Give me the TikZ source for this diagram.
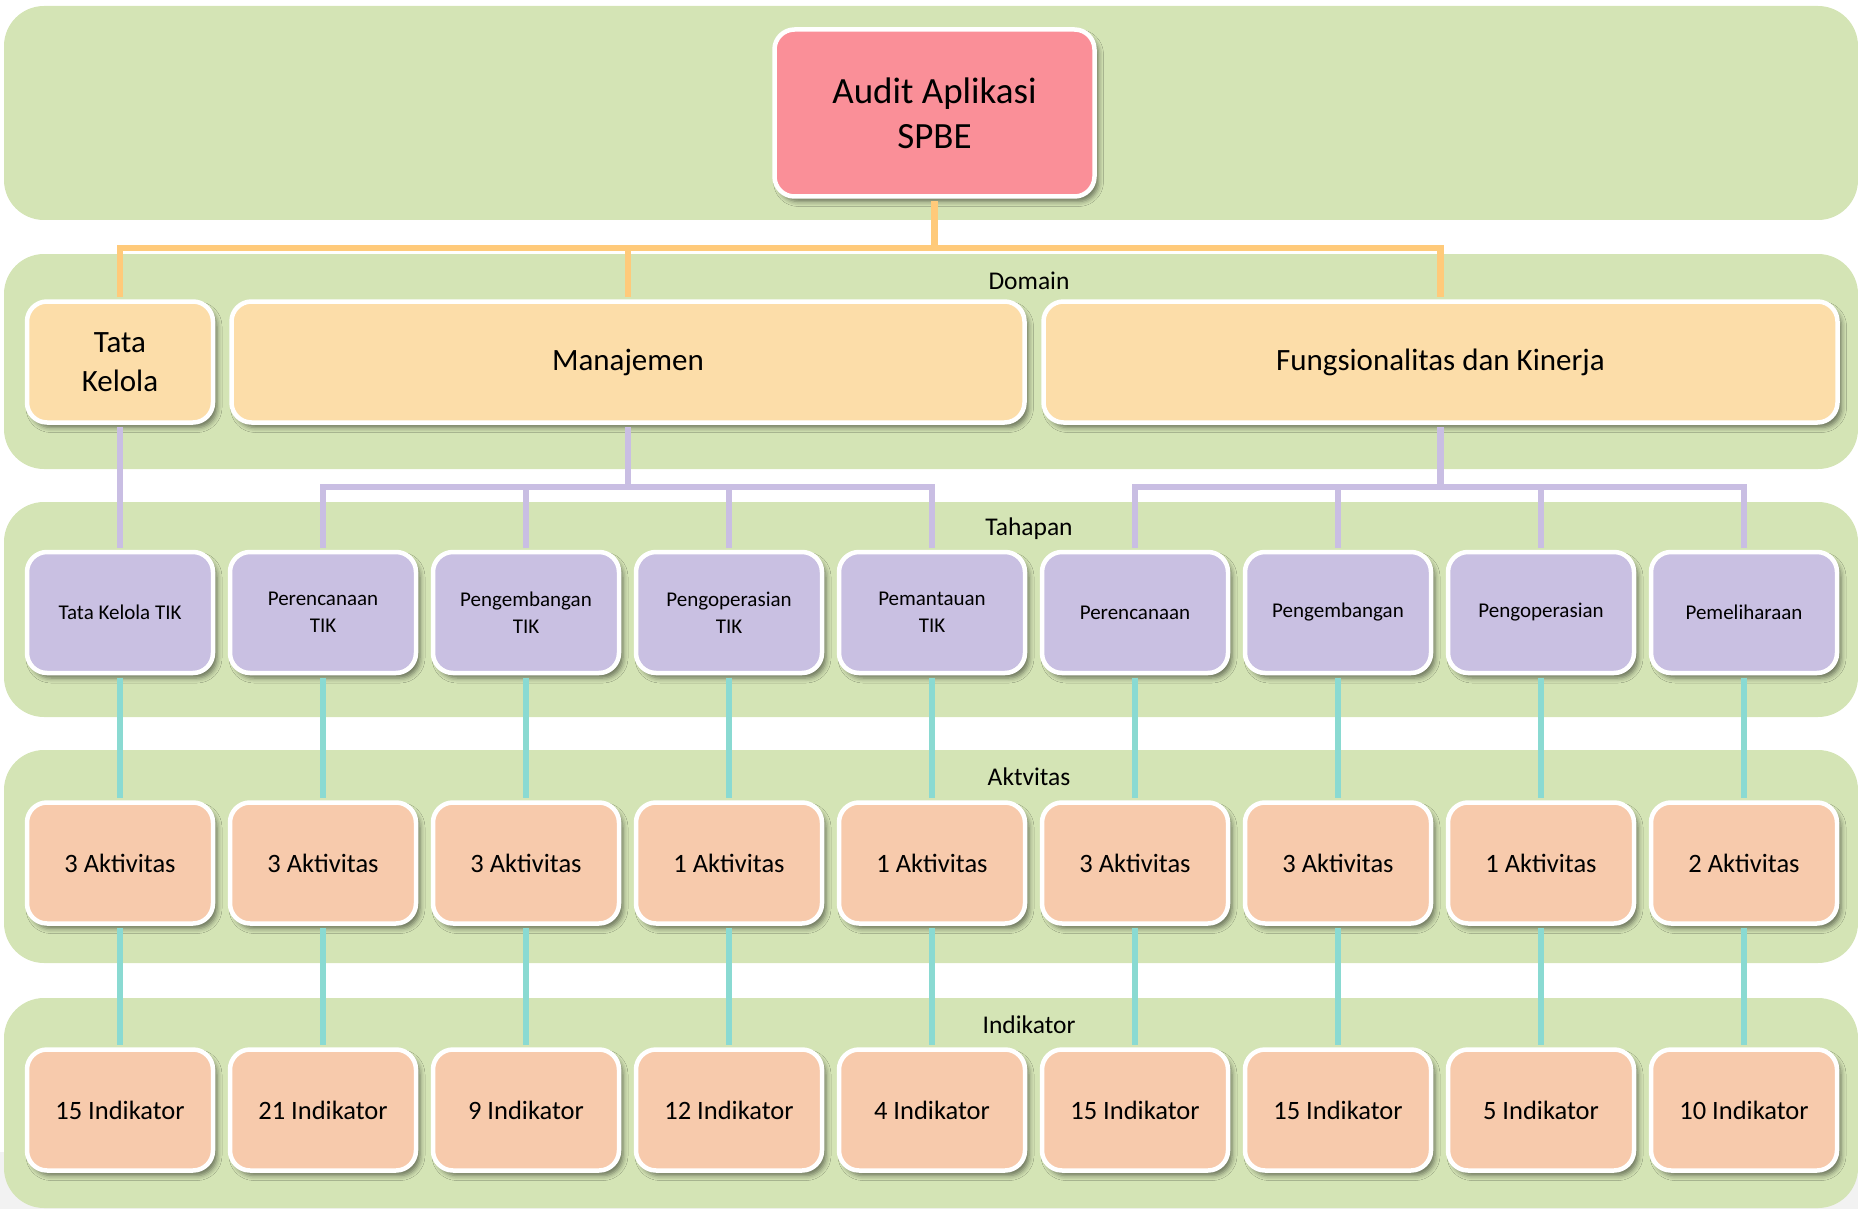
\documentclass[tikz,border=0pt]{standalone}
\usepackage{fontspec}
\setmainfont{Carlito}
\usetikzlibrary{shadows.blur}

\definecolor{bandgreen}{HTML}{D4E4B5}
\definecolor{rootpink}{HTML}{FA8F98}
\definecolor{domainfill}{HTML}{FCDDA9}
\definecolor{stagefill}{HTML}{C9C0E2}
\definecolor{countfill}{HTML}{F7CAAC}
\definecolor{orangelink}{HTML}{FFCA7A}
\definecolor{purplelink}{HTML}{C9BEE3}
\definecolor{teallink}{HTML}{8ADAD2}
\definecolor{footgray}{HTML}{F2F2F2}

\begin{document}
\begin{tikzpicture}[x=1pt,y=-1pt,
  band/.style={fill=bandgreen, rounded corners=40pt},
  box/.style={rounded corners=20pt, draw=white, line width=4.5pt,
    align=center, inner sep=0pt, text=black,
    blur shadow={shadow xshift=4pt, shadow yshift=-5pt,
      shadow blur radius=5pt, shadow opacity=50}},
  rootbox/.style={box, fill=rootpink, minimum width=320pt, minimum height=167pt,
    font=\fontsize{37}{45}\selectfont},
  domainbox/.style={box, fill=domainfill, minimum height=121pt,
    font=\fontsize{31}{39}\selectfont},
  stagebox/.style={box, fill=stagefill, minimum width=186pt, minimum height=121pt,
    font=\fontsize{21}{27}\selectfont},
  countbox/.style={box, fill=countfill, minimum width=186pt, minimum height=121pt,
    font=\fontsize{26.5}{30}\selectfont},
  levellabel/.style={inner sep=0pt, font=\fontsize{25.5}{30}\selectfont},
  link/.style={shorten <=2.25pt, shorten >=2.25pt},
  olink/.style={link, draw=orangelink, line width=6.5pt},
  plink/.style={link, draw=purplelink, line width=6.5pt},
  tlink/.style={link, draw=teallink, line width=6pt}
]
\useasboundingbox (0,0) rectangle (1858,1209);

% level bands
\fill[footgray] (0,1152) rectangle (1858,1209);
\fill[band] (4,6) rectangle (1858,220);
\fill[band] (4,254) rectangle (1858,469);
\fill[band] (4,502) rectangle (1858,717);
\fill[band] (4,750) rectangle (1858,963);
\fill[band] (4,998) rectangle (1858,1208);

% level labels
\node[levellabel] (lblDomain) at (1029,281) {Domain};
\node[levellabel] (lblTahapan) at (1029,529) {Tahapan};
\node[levellabel] (lblAktivitas) at (1029,777) {Aktvitas};
\node[levellabel] (lblIndikator) at (1029,1025) {Indikator};

% root
\node[rootbox] (root) at (934.5,113) {Audit Aplikasi\\SPBE};

% domains
\node[domainbox, minimum width=186pt] (tk) at (120,362) {Tata\\Kelola};
\node[domainbox, minimum width=793pt] (mj) at (628,362) {Manajemen};
\node[domainbox, minimum width=794pt] (fk) at (1440.5,362) {Fungsionalitas dan Kinerja};

% stages, activities and indicators per column
\foreach \i/\stage/\act/\ind in {
  1/{Tata Kelola TIK}/3/15,
  2/{Perencanaan\\TIK}/3/21,
  3/{Pengembangan\\TIK}/3/9,
  4/{Pengoperasian\\TIK}/1/12,
  5/{Pemantauan\\TIK}/1/4,
  6/{Perencanaan}/3/15,
  7/{Pengembangan}/3/15,
  8/{Pengoperasian}/1/5,
  9/{Pemeliharaan}/2/10} {
  \pgfmathsetmacro{\cx}{120+203*(\i-1)}
  \node[stagebox] (t\i) at (\cx,612.5) {\stage};
  \node[countbox] (a\i) at (\cx,863) {\act\ Aktivitas};
  \node[countbox] (n\i) at (\cx,1110) {\ind\ Indikator};
}

% connectors
\coordinate (obus) at (934.5,248);
\coordinate (pbus) at (0,487);
\draw[olink] (root.south) -- (obus);
\draw[olink] (tk.north) |- (fk.north |- obus) -- (fk.north);
\draw[olink] (mj.north) -- (mj.north |- obus);

\draw[plink] (tk.south) -- (t1.north);
\draw[plink] (mj.south) -- (mj.south |- pbus);
\draw[plink] (t2.north) |- (t5.north |- pbus) -- (t5.north);
\draw[plink] (t3.north) -- (t3.north |- pbus);
\draw[plink] (t4.north) -- (t4.north |- pbus);
\draw[plink] (fk.south) -- (fk.south |- pbus);
\draw[plink] (t6.north) |- (t9.north |- pbus) -- (t9.north);
\draw[plink] (t7.north) -- (t7.north |- pbus);
\draw[plink] (t8.north) -- (t8.north |- pbus);

\foreach \i in {1,...,9} {
  \draw[tlink] (t\i.south) -- (a\i.north);
  \draw[tlink] (a\i.south) -- (n\i.north);
}
\end{tikzpicture}
\end{document}
